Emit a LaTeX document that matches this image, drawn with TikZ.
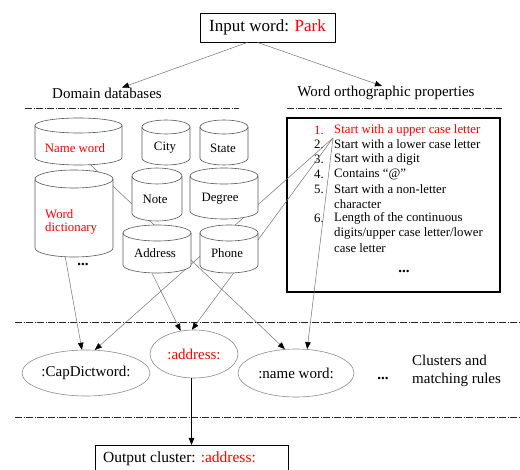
\documentclass[tikz,border=0pt]{standalone}
\usepackage{fontspec}
\setmainfont{Liberation Serif}
\usetikzlibrary{arrows.meta,shapes.geometric}
\newcommand{\dbcyl}[5]{% x1,x2,ytop,ybot,ry
  \pgfmathsetmacro{\cylrx}{(#2-#1)/2}
  \draw[cylline] (#1,#3+#5) -- (#1,#4-#5) arc[start angle=180,end angle=0,x radius=\cylrx,y radius=#5] -- (#2,#3+#5) arc[start angle=0,end angle=-180,x radius=\cylrx,y radius=#5] -- cycle;
  \draw[cylline,fill=none] (#1,#3+#5) arc[start angle=180,end angle=0,x radius=\cylrx,y radius=#5];
}
\tikzset{
  cylline/.style={draw=black!65, fill=white, line width=0.6pt},
  conn/.style={draw=black!55, line width=0.5pt, -{Triangle[length=7pt,width=5.5pt,color=black]}},
  sepline/.style={draw=black!85, line width=0.7pt, dash pattern=on 7pt off 1.5pt on 1pt off 1.5pt},
  cluster/.style={ellipse, draw=black!45, line width=0.6pt, inner sep=0pt, font=\fontsize{15}{17}\selectfont},
  lbl/.style={font=\fontsize{12.8}{14}\selectfont, inner sep=0pt},
  item/.style={font=\fontsize{12.8}{14}\selectfont, inner sep=0pt, anchor=west},
  num/.style={font=\fontsize{12.8}{14}\selectfont, inner sep=0pt, anchor=east},
  hdr/.style={font=\fontsize{15}{17}\selectfont, inner sep=0pt},
  boxnode/.style={draw=black, line width=0.8pt, inner sep=0pt},
}
\begin{document}
\begin{tikzpicture}[x=1pt,y=-1pt]
\useasboundingbox (0,0) rectangle (520,470);
\fill[white] (0,0) rectangle (520,470);

% separators
\draw[sepline] (25,108) -- (239,108);
\draw[sepline] (287,108) -- (502,108);
\draw[sepline] (15,322) -- (520,322);
\draw[sepline] (15,417) -- (520,417);

% input
\node[boxnode, minimum width=135pt, minimum height=29pt, font=\fontsize{17}{19}\selectfont] (input) at (267.5,27.5) {Input word: \textcolor{red}{Park}};
\node[hdr] (dd) at (107,93) {Domain databases};
\node[hdr] (wop) at (386,93) {Word orthographic properties};
\draw[conn] ([xshift=-20pt]input.south) -- ([xshift=15pt]dd.north);
\draw[conn] ([xshift=-10pt]input.south) -- ([xshift=-4pt]wop.north);

% property box
\node[boxnode, line width=1.2pt, minimum width=213pt, minimum height=174pt] (props) at (393.5,205) {};
\node[num, text=red] (n1) at (324,130) {1.};
\node[item, text=red] (t1) at (334,130) {Start with a upper case letter};
\node[num] (n2) at (324,144) {2.};
\node[item] (t2) at (334,144) {Start with a lower case letter};
\node[num] (n3) at (324,159) {3.};
\node[item] (t3) at (334,159) {Start with a digit};
\node[num] (n4) at (324,174) {4.};
\node[item] (t4) at (334,174) {Contains “@”};
\node[num] (n5) at (324,189) {5.};
\node[item] (t5) at (334,189) {Start with a non-letter};
\node[item] (t5b) at (334,204) {character};
\node[num] (n6) at (324,218) {6.};
\node[item] (t6) at (334,218) {Length of the continuous};
\node[item] (t6b) at (334,233) {digits/upper case letter/lower};
\node[item] (t6c) at (334,248) {case letter};
\node[lbl, font=\fontsize{15}{17}\selectfont\bfseries] (pdots) at (404,271) {...};

% clusters
\node[cluster, minimum width=128pt, minimum height=46pt] (capd) at (86,373) {:CapDictword:};
\node[cluster, minimum width=88pt, minimum height=48pt, text=red] (addr) at (194,354) {:address:};
\node[cluster, minimum width=116pt, minimum height=48pt] (namew) at (296,373) {:name word:};
\node[hdr, font=\fontsize{15}{17}\selectfont\bfseries] (cdots) at (383,378) {...};
\node[hdr, anchor=west, align=left, font=\fontsize{15}{17.5}\selectfont] (crules) at (412,371) {Clusters and\\matching rules};

% connector start points
\coordinate (pstart) at (333,138);
\coordinate (nwstart) at (85.5,160);
\coordinate (wdstart) at (64,250);
\coordinate (adstart) at (147,263);

% connectors (behind the databases)
\draw[conn] (pstart) -- (capd.69);
\draw[conn] (pstart) -- (addr.95);
\draw[conn] (pstart) -- (namew.65);
\draw[conn] (nwstart) -- (namew.115);
\draw[conn] (wdstart) -- (capd.100);
\draw[conn] (adstart) -- (addr.120);

% databases
\dbcyl{35}{122}{118}{165}{7.5}
\dbcyl{35}{113}{170}{257}{9}
\dbcyl{142}{190}{120}{165}{7}
\dbcyl{200}{248}{120}{165}{7}
\dbcyl{132}{182}{168}{221}{8}
\dbcyl{190}{258}{168}{219}{8}
\dbcyl{123}{191}{225}{273}{8}
\dbcyl{200}{258}{225}{273}{8}
\node[lbl, text=red] (dbname) at (75,148) {Name word};
\node[lbl, text=red, anchor=west, align=left, font=\fontsize{12.8}{13.5}\selectfont] (dbdict) at (45,222) {Word\\dictionary};
\node[lbl, font=\fontsize{15}{17}\selectfont\bfseries] (dbdots) at (83,264) {...};
\node[lbl] (dbcity) at (165,148) {City};
\node[lbl] (dbstate) at (223,148) {State};
\node[lbl] (dbnote) at (155,199) {Note};
\node[lbl] (dbdegree) at (220,199) {Degree};
\node[lbl] (dbaddress) at (155,253) {Address};
\node[lbl] (dbphone) at (227,253) {Phone};

% output
\node[boxnode, minimum width=193pt, minimum height=32pt, anchor=north] (output) at (191.5,445) {};
\node[hdr, anchor=west, font=\fontsize{15.5}{17}\selectfont] (outtxt) at (103,459) {Output cluster:\hspace{5pt}\textcolor{red}{:address:}};
\draw[line width=0.8pt, -{Triangle[length=7pt,width=5.5pt]}] (output.north |- addr.south) -- (output.north);
\end{tikzpicture}
\end{document}
